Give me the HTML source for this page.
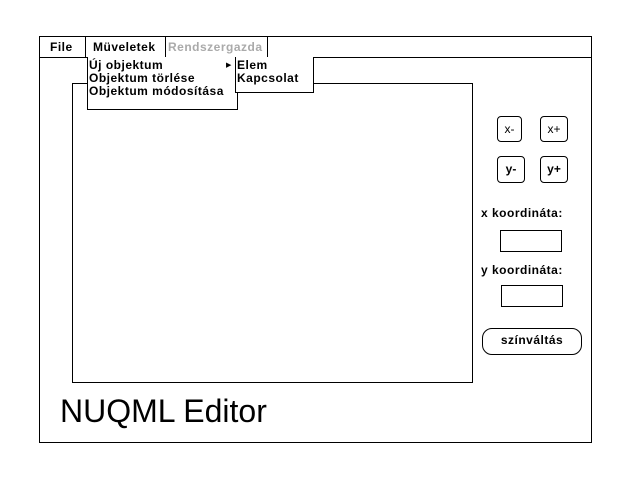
<!DOCTYPE html>
<html><head><meta charset="utf-8"><style>
body{margin:0;width:640px;height:480px;background:#fff;position:relative;overflow:hidden;font-family:"Liberation Sans",sans-serif;}
div{position:absolute;box-sizing:border-box;}
.b{font-weight:bold;font-size:12px;color:#000;letter-spacing:0.5px;}
.btn{border:1px solid #000;border-radius:4px;font-size:12px;text-align:center;}
</style></head><body>
<div style="left:39px;top:36px;width:553px;height:407px;border:1px solid #000"></div>
<div style="left:39px;top:57px;width:553px;height:1px;background:#000"></div>
<div style="left:85px;top:36px;width:1px;height:21px;background:#000"></div>
<div style="left:165px;top:36px;width:1px;height:21px;background:#000"></div>
<div style="left:267px;top:36px;width:1px;height:21px;background:#000"></div>
<div class="b" style="left:50px;top:40px">File</div>
<div class="b" style="left:93px;top:40px">Müveletek</div>
<div class="b" style="left:168px;top:40px;color:#aaa">Rendszergazda</div>
<div style="left:72px;top:83px;width:401px;height:300px;border:1px solid #000"></div>
<div style="left:87px;top:57px;width:151px;height:53px;border:1px solid #000;border-top:none;background:#fff"></div>
<div class="b" style="left:89px;top:59px;line-height:13px">Új objektum<br>Objektum törlése<br>Objektum módosítása</div>
<div style="left:226px;top:61px;font-size:7px">▶</div>
<div style="left:235px;top:57px;width:79px;height:36px;border:1px solid #000;border-top:none;background:#fff"></div>
<div class="b" style="left:237px;top:59px;line-height:13px">Elem<br>Kapcsolat</div>
<div class="btn" style="left:497px;top:116px;width:25px;height:26px;line-height:24px">x-</div>
<div class="btn" style="left:540px;top:116px;width:28px;height:26px;line-height:24px">x+</div>
<div class="btn" style="left:497px;top:156px;width:28px;height:27px;line-height:25px;font-weight:bold">y-</div>
<div class="btn" style="left:540px;top:156px;width:28px;height:27px;line-height:25px;font-weight:bold">y+</div>
<div class="b" style="left:481px;top:206px">x koordináta:</div>
<div style="left:500px;top:230px;width:62px;height:22px;border:1px solid #000"></div>
<div class="b" style="left:481px;top:263px">y koordináta:</div>
<div style="left:501px;top:285px;width:62px;height:22px;border:1px solid #000"></div>
<div class="btn b" style="left:482px;top:328px;width:100px;height:27px;border-radius:10px;line-height:22px;font-size:12px">színváltás</div>
<div style="left:60px;top:393px;font-size:32px;line-height:36px">NUQML Editor</div>
</body></html>
